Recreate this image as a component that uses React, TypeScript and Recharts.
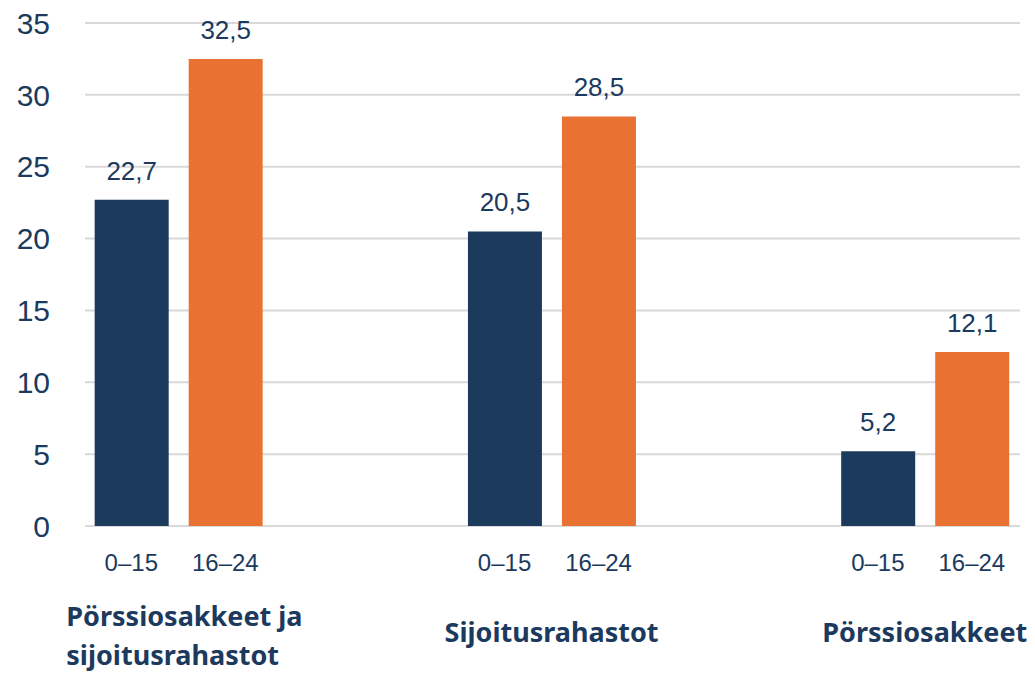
import React from 'react';
import { BarChart, Bar, XAxis, YAxis, CartesianGrid, LabelList } from 'recharts';

const groupLabels: string[][] = [
  ['Pörssiosakkeet ja', 'sijoitusrahastot'],
  ['Sijoitusrahastot'],
  ['Pörssiosakkeet'],
];
const groupIndex = [0, 1, 2];
const age0to15 = [22.7, 20.5, 5.2];
const age16to24 = [32.5, 28.5, 12.1];
const seriesNames = ['0–15', '16–24'];
const yTicks = [0, 5, 10, 15, 20, 25, 30, 35];

const data = groupIndex.map((g, i) => ({
  g,
  a: age0to15[i],
  b: age16to24[i],
}));

const NAVY = '#1b3a5c';
const ORANGE = '#e97132';
const TEXT = '#1c3a5e';
const BAR_SIZE = 74;
const BAR_GAP = 20;

const fmt = (v: any) => Number(v).toFixed(1).replace('.', ',');

const GroupTick = (props: any) => {
  const { x, y, payload } = props;
  const idx = payload.value as number;
  const lines = groupLabels[idx] || [];
  const off = (BAR_SIZE + BAR_GAP) / 2;
  const single = lines.length === 1;
  return (
    <g>
      <text x={x - off} y={y + 45} textAnchor="middle" fill={TEXT} fontSize={24} fontFamily="Liberation Sans, Arial, sans-serif">
        {seriesNames[0]}
      </text>
      <text x={x + off} y={y + 45} textAnchor="middle" fill={TEXT} fontSize={24} fontFamily="Liberation Sans, Arial, sans-serif">
        {seriesNames[1]}
      </text>
      {lines.map((l, i) => (
        <text
          key={i}
          x={single ? x : x - 112}
          y={single ? y + 116 : y + 100 + i * 39}
          textAnchor={single ? 'middle' : 'start'}
          fill={TEXT}
          fontSize={27}
          fontWeight={700}
          fontFamily="Noto Sans, sans-serif"
        >
          {l}
        </text>
      ))}
    </g>
  );
};

export default function App() {
  return (
    <div style={{ position: 'absolute', left: 0, top: 0, background: '#fff' }}>
      <BarChart
        width={1035}
        height={674}
        data={data}
        margin={{ top: 23, right: 15, bottom: 0, left: 0 }}
        barGap={BAR_GAP}
        barSize={BAR_SIZE}
      >
        <CartesianGrid vertical={false} stroke="#d9d9d9" strokeWidth={2} />
        <XAxis
          dataKey="g"
          type="number"
          domain={[-0.25, 2.255]}
          ticks={groupIndex}
          allowDataOverflow
          height={148}
          axisLine={false}
          tickLine={false}
          tickSize={0}
          tickMargin={0}
          interval={0}
          tick={<GroupTick />}
        />
        <YAxis
          width={85}
          domain={[0, 35]}
          ticks={yTicks}
          axisLine={false}
          tickLine={false}
          tickSize={0}
          tickMargin={35}
          tick={{ fill: TEXT, fontSize: 30, fontFamily: 'Liberation Sans, Arial, sans-serif' }}
        />
        <Bar dataKey="a" fill={NAVY} isAnimationActive={false}>
          <LabelList dataKey="a" position="top" offset={20} formatter={fmt} fill={TEXT} fontSize={26} fontFamily="Liberation Sans, Arial, sans-serif" />
        </Bar>
        <Bar dataKey="b" fill={ORANGE} isAnimationActive={false}>
          <LabelList dataKey="b" position="top" offset={20} formatter={fmt} fill={TEXT} fontSize={26} fontFamily="Liberation Sans, Arial, sans-serif" />
        </Bar>
      </BarChart>
    </div>
  );
}
